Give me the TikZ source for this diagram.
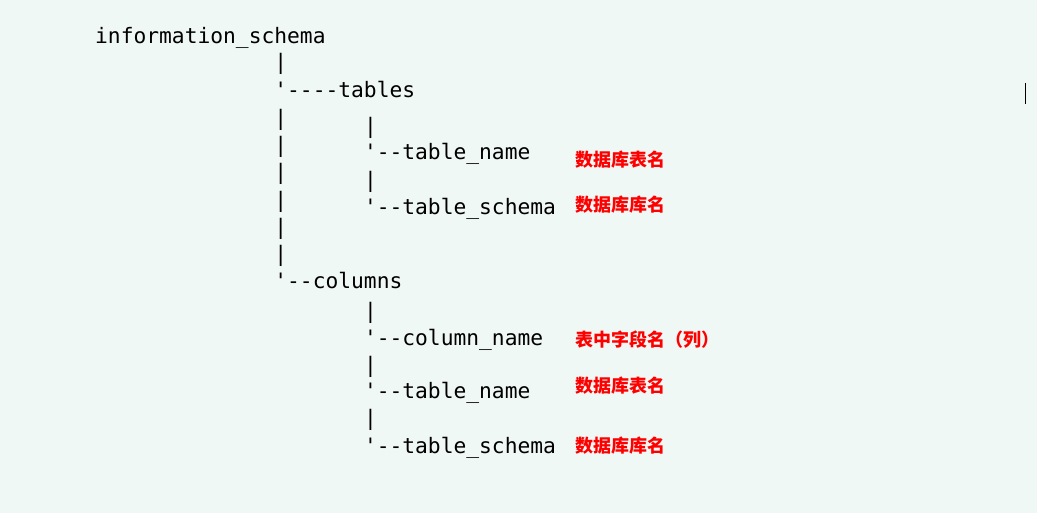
\documentclass[tikz,border=0pt]{standalone}
\usepackage{fontspec}
\setmonofont{DejaVu Sans Mono}
\newfontfamily\cjk{Noto Sans CJK SC}
\usetikzlibrary{positioning}
\definecolor{pagebg}{RGB}{240,248,246}
\definecolor{notered}{RGB}{255,0,0}
\newcommand{\treefont}{\fontsize{21.26}{24}\ttfamily}
\newcommand{\notefont}{\fontsize{18}{20}\cjk\bfseries}

\tikzset{
  treeline/.style={anchor=base west, inner sep=0pt, font=\treefont},
  redlabel/.style={anchor=base west, inner sep=0pt, font=\notefont, text=notered}
}

\begin{document}
\begin{tikzpicture}[x=1pt, y=-1pt]
    % page
    \fill[pagebg] (0,0) rectangle (1037,513);
    \useasboundingbox (0,0) rectangle (1037,513);

    % root
    \node[treeline] (root) at (95,43.5) {information\_schema};
    \node[treeline] (rootbar) at (274.2,69.5) {|};

    % tables branch
    \node[treeline] (tables) at (274.2,98) {'----tables};
    \foreach \k in {1,...,6}
        \node[treeline] (leftbar\k) at (274.2,{98+27.29*\k}) {|};
    \node[treeline] (tbar1) at (363.8,134) {|};
    \node[treeline] (tname) at (363.8,160) {'--table\_name};
    \node[treeline] (tbar2) at (363.8,188) {|};
    \node[treeline] (tschema) at (363.8,215) {'--table\_schema};

    % columns branch
    \node[treeline] (columns) at (274.2,289) {'--columns};
    \node[treeline] (cbar1) at (363.8,318.5) {|};
    \node[treeline] (cname) at (363.8,345.5) {'--column\_name};
    \node[treeline] (cbar2) at (363.8,372) {|};
    \node[treeline] (ctname) at (363.8,398) {'--table\_name};
    \node[treeline] (cbar3) at (363.8,425) {|};
    \node[treeline] (ctschema) at (363.8,453) {'--table\_schema};

    % notes
    \node[redlabel] (tnamenote) at (575,167) {数据库表名};
    \node[redlabel] (tschemanote) at (575,212) {数据库库名};
    \node[redlabel] (cnamenote) at (575,346) {表中字段名（列）};
    \node[redlabel] (ctnamenote) at (575,392) {数据库表名};
    \node[redlabel] (ctschemanote) at (575,452) {数据库库名};

    % cursor
    \draw[line width=1.3pt] (1025.7,83) -- (1025.7,104);
\end{tikzpicture}
\end{document}
